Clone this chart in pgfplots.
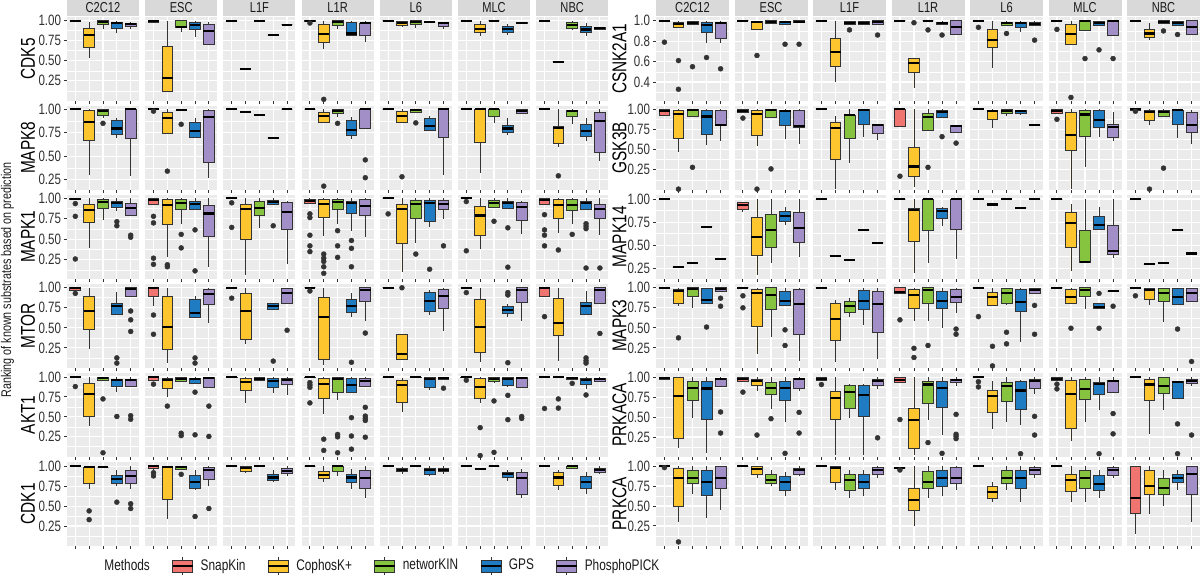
\documentclass[border=0pt]{standalone}
\usepackage{fontspec}
\setmainfont{Liberation Sans}[FakeStretch=0.77]
\usepackage{pgfplots}
\pgfplotsset{compat=1.18}
\usepgfplotslibrary{statistics}

\definecolor{c1}{HTML}{F07470}
\definecolor{c2}{HTML}{FDC62F}
\definecolor{c3}{HTML}{86C440}
\definecolor{c4}{HTML}{1F7BC2}
\definecolor{c5}{HTML}{A28FC8}
\definecolor{dark}{HTML}{333333}
\definecolor{panelbg}{HTML}{EBEBEB}
\definecolor{stripbg}{HTML}{D9D9D9}
\definecolor{txt}{HTML}{1A1A1A}
\definecolor{ticktxt}{HTML}{303030}

\newcommand\fTick{\fontsize{7.5}{8}\selectfont}
\newcommand\fStrip{\fontsize{7.2}{8}\selectfont}
\newcommand\fRow{\fontsize{7.5}{8}\selectfont}
\newcommand\fTitle{\fontsize{7}{8}\selectfont}
\newcommand\fLeg{\fontsize{7.7}{8}\selectfont}

\pgfplotsset{
  bp/.style={fill=c#1, draw=dark, line width=0.45pt, mark=*, mark size=1.25pt,
    mark options={fill=dark, draw=dark, line width=0.2pt}},
  boxplot/draw direction=y,
  boxplot/box extend=0.78,
  boxplot/whisker extend=0,
  boxplot/every box/.style={draw=dark, line width=0.45pt},
  boxplot/every whisker/.style={draw=dark, line width=0.45pt},
  boxplot/every median/.style={draw=black, line width=1.05pt},
  cell/.style={
    anchor=north west, scale only axis, height=41.75pt,
    xmin=0.4, xmax=5.6, xtick={1,2,3,4,5}, xticklabels={},
    axis background/.style={fill=panelbg},
    axis line style={draw=none},
    xmajorgrids, ymajorgrids, yminorgrids,
    major grid style={white, line width=0.6pt},
    minor grid style={white, line width=0.3pt},
    tick align=outside, tick pos=left,
    major tick length=1.6pt, minor tick length=0pt,
    tick style={draw=dark, line width=0.45pt},
    yticklabel style={font=\fTick, text=ticktxt, inner sep=1.2pt,
      /pgf/number format/.cd, fixed, fixed zerofill, precision=2, assume math mode=true},
    ylabel style={font=\fRow, text=txt},
    every axis title/.style={at={(0.5,1)}, anchor=south, fill=stripbg, minimum height=8.25pt,
      inner sep=0pt, yshift=0.25pt, font=\fStrip, text=txt},
  },
  cellL/.style={width=36pt, title style={minimum width=36pt},
    every axis y label/.style={at={(rel axis cs:0,0.5)}, xshift=-19.5pt, rotate=90, anchor=center}},
  cellR/.style={width=36.5pt, title style={minimum width=36.5pt},
    every axis y label/.style={at={(rel axis cs:0,0.5)}, xshift=-18.25pt, rotate=90, anchor=center}},
  inner/.style={yticklabels={,,,,,}, ytick style={draw=none}},
  q/.style={ytick={0.25,0.5,0.75,1}, minor ytick={0.125,0.375,0.625,0.875}},
  % row ranges, left grid
  rL1/.style={q, ymin=0.005, ymax=1.045},
  rL2/.style={q, ymin=0.144, ymax=1.035},
  rL3/.style={q, ymin=0.022, ymax=1.04},
  rL4/.style={q, ymin=0.005, ymax=1.047},
  rL5/.style={q, ymin=0.003, ymax=1.05},
  rL6/.style={q, ymin=0.005, ymax=1.055},
  % row ranges, right grid
  rR1/.style={ytick={0.4,0.6,0.8,1}, minor ytick={0.3,0.5,0.7,0.9}, ymin=0.22, ymax=1.036,
    yticklabel style={/pgf/number format/precision=1}},
  rR2/.style={q, ymin=0.005, ymax=1.04},
  rR3/.style={q, ymin=0.14, ymax=1.043},
  rR4/.style={q, ymin=0.005, ymax=1.047},
  rR5/.style={q, ymin=0.005, ymax=1.055},
  rR6/.style={q, ymin=0.005, ymax=1.05},
  keybox/.style={legend image code/.code={
    \draw[draw=dark, line width=0.45pt] (5pt,-4.5pt) -- (5pt,4.5pt);
    \draw[fill=#1, draw=dark, line width=0.45pt] (0pt,-3pt) rectangle (10pt,3pt);
    \draw[black, line width=0.9pt] (0pt,0pt) -- (10pt,0pt);}},
}

% box: position, lower whisker, lower quartile, median, upper quartile, upper whisker
\newcommand\Bx[6]{\addplot[bp=#1, boxplot prepared={draw position=#1,
  lower whisker=#2, lower quartile=#3, median=#4, upper quartile=#5, upper whisker=#6}]
  coordinates {};}
% same, followed by outliers separated by \\
\newcommand\Bo[7]{\addplot[bp=#1, boxplot prepared={draw position=#1,
  lower whisker=#2, lower quartile=#3, median=#4, upper quartile=#5, upper whisker=#6}]
  table[row sep=\\, y index=0] {v\\#7\\};}
% a single value
\newcommand\Fl[2]{\Bx{#1}{#2}{#2}{#2}{#2}{#2}}
\newcommand\Fo[3]{\Bo{#1}{#2}{#2}{#2}{#2}{#2}{#3}}

\newcommand\PL[4]{\begin{axis}[cell, cellL,
  at={({(67+78.2*#1)*0.5pt},{-(17+89*#2)*0.5pt})}, #3] #4 \end{axis}}
\newcommand\PR[4]{\begin{axis}[cell, cellR,
  at={({(656+78.5*#1)*0.5pt},{-(17+89*#2)*0.5pt})}, #3] #4 \end{axis}}

\begin{document}
\begin{tikzpicture}
\useasboundingbox (0,0) rectangle (600pt,-289.5pt);

% ---------------- left grid ----------------
% CDK5
\PL{0}{0}{rL1, ylabel=CDK5, title=C2C12}{\Fl1{1}\Bx2{0.53}{0.66}{0.82}{0.90}{0.98}\Bx3{0.89}{0.95}{0.98}{1}{1}\Bx4{0.84}{0.905}{0.965}{0.975}{1}\Bx5{0.90}{0.93}{0.957}{0.97}{0.98}}
\PL{1}{0}{rL1, inner, title=ESC}{\Bx1{0.975}{0.98}{0.99}{1}{1}\Bx2{0.12}{0.12}{0.29}{0.68}{1}\Bx3{0.86}{0.915}{0.925}{1}{1}\Bx4{0.795}{0.89}{0.95}{0.975}{1}\Bx5{0.70}{0.70}{0.87}{0.95}{0.98}}
\PL{2}{0}{rL1, inner, title=L1F}{\Fl1{1}\Fl2{0.40}\Fl3{1}\Fl4{0.82}\Fl5{0.95}}
\PL{3}{0}{rL1, inner, title=L1R}{\Bo1{0.99}{0.99}{1}{1}{1}{0.97}\Bo2{0.645}{0.73}{0.83}{0.957}{1}{0.02}\Bx3{0.89}{0.945}{0.985}{1}{1}\Bx4{0.82}{0.82}{0.84}{0.98}{1}\Bx5{0.73}{0.81}{0.965}{0.97}{1}}
\PL{4}{0}{rL1, inner, title=L6}{\Fl1{1}\Bx2{0.915}{0.94}{0.97}{0.99}{1}\Bx3{0.905}{0.95}{0.98}{1}{1}\Fl4{0.98}\Bx5{0.90}{0.925}{0.965}{0.975}{0.98}}
\PL{5}{0}{rL1, inner, title=MLC}{\Fl1{1}\Bx2{0.81}{0.85}{0.90}{0.957}{1}\Fl3{1}\Bx4{0.825}{0.855}{0.90}{0.93}{0.96}\Bx5{0.97}{0.97}{0.975}{0.98}{0.98}}
\PL{6}{0}{rL1, inner, title=NBC}{\Fl1{1}\Fl2{0.49}\Bx3{0.88}{0.90}{0.945}{0.975}{1}\Bx4{0.81}{0.85}{0.89}{0.93}{0.975}\Bx5{0.89}{0.89}{0.905}{0.92}{0.92}}
% MAPK8
\PL{0}{1}{rL2, ylabel=MAPK8}{\Fl1{1}\Bx2{0.30}{0.67}{0.865}{0.99}{1}\Bo3{0.91}{0.935}{0.98}{1}{1}{0.85}\Bx4{0.69}{0.735}{0.795}{0.88}{0.91}\Bx5{0.29}{0.69}{1}{1}{1}}
\PL{1}{1}{rL2, inner}{\Fo1{1}{0.98}\Bo2{0.74}{0.74}{0.905}{0.965}{1}{0.34}\Fo3{0.99}{0.84}\Bx4{0.70}{0.70}{0.77}{0.855}{0.91}\Bx5{0.265}{0.43}{0.92}{0.99}{1}}
\PL{2}{1}{rL2, inner}{\Fl1{1}\Fl2{0.97}\Fl3{0.935}\Fl4{0.695}\Fl5{1}}
\PL{3}{1}{rL2, inner}{\Fl1{1}\Bo2{0.855}{0.855}{0.925}{0.97}{1}{0.18}\Bo3{0.92}{0.96}{0.985}{1}{1}{0.85}\Bx4{0.68}{0.72}{0.775}{0.88}{0.92}\Bo5{0.80}{0.80}{1}{1}{1}{0.46\\0.27}}
\PL{4}{1}{rL2, inner}{\Fl1{1}\Bo2{0.855}{0.855}{0.93}{0.98}{1}{0.28}\Bo3{0.97}{0.97}{0.995}{1}{1}{0.855}\Bx4{0.77}{0.77}{0.82}{0.90}{0.925}\Bx5{0.30}{0.70}{1}{1}{1}}
\PL{5}{1}{rL2, inner}{\Fl1{1}\Bx2{0.32}{0.645}{1}{1}{1}\Bx3{0.85}{0.92}{1}{1}{1}\Bx4{0.725}{0.75}{0.795}{0.83}{0.91}\Bx5{0.955}{0.955}{0.98}{1}{1}}
\PL{6}{1}{rL2, inner}{\Fl1{1}\Bo2{0.60}{0.64}{0.805}{0.82}{1}{0.29}\Bx3{0.84}{0.92}{0.98}{0.99}{1}\Bx4{0.66}{0.705}{0.765}{0.84}{0.91}\Bx5{0.45}{0.535}{0.875}{0.97}{1}}
% MAPK1
\PL{0}{2}{rL3, ylabel=MAPK1}{\Bo1{0.98}{0.98}{0.99}{1}{1}{0.935\\0.78\\0.26}\Bx2{0.40}{0.70}{0.855}{0.925}{1}\Bx3{0.735}{0.875}{0.95}{0.99}{1}\Bo4{0.85}{0.885}{0.945}{0.965}{1}{0.715\\0.665}\Bo5{0.79}{0.79}{0.88}{0.94}{1}{0.55\\0.525}}
\PL{1}{2}{rL3, inner}{\Bo1{0.925}{0.925}{0.98}{0.995}{1}{0.78\\0.70\\0.27\\0.195}\Bo2{0.29}{0.68}{0.915}{0.985}{1}{0.19\\0.165}\Bo3{0.69}{0.86}{0.94}{0.98}{1}{0.56\\0.395}\Bo4{0.865}{0.865}{0.925}{0.96}{1}{0.615\\0.115}\Bx5{0.16}{0.54}{0.815}{0.91}{1}}
\PL{2}{2}{rL3, inner}{\Fo1{1}{0.945\\0.645}\Bx2{0.065}{0.50}{0.87}{0.93}{1}\Bx3{0.635}{0.79}{0.885}{0.965}{1}\Bo4{0.92}{0.92}{0.96}{0.97}{1}{0.665}\Bx5{0.195}{0.615}{0.83}{0.955}{0.97}}
\PL{3}{2}{rL3, inner}{\Bo1{0.94}{0.94}{0.965}{0.99}{1}{0.81\\0.765\\0.55\\0.42\\0.35}\Bo2{0.54}{0.765}{0.925}{0.98}{1}{0.32\\0.27\\0.23\\0.165\\0.085}\Bo3{0.69}{0.86}{0.95}{0.99}{1}{0.605\\0.42\\0.28}\Bo4{0.605}{0.815}{0.94}{0.965}{1}{0.485\\0.39\\0.165}\Bx5{0.525}{0.79}{0.91}{0.98}{1}}
\PL{4}{2}{rL3, inner}{\Fo1{1}{0.81}\Bx2{0.105}{0.45}{0.865}{0.925}{1}\Bo3{0.46}{0.755}{0.93}{0.97}{1}{0.32}\Bo4{0.645}{0.715}{0.94}{0.97}{1}{0.135}\Bo5{0.75}{0.87}{0.925}{0.975}{1}{0.42}}
\PL{5}{2}{rL3, inner}{\Fo1{1}{0.96\\0.36}\Bx2{0.38}{0.55}{0.79}{0.905}{1}\Bo3{0.89}{0.89}{0.945}{0.97}{1}{0.72}\Bo4{0.875}{0.875}{0.945}{0.965}{1}{0.64\\0.16}\Bx5{0.56}{0.73}{0.89}{0.945}{0.97}}
\PL{6}{2}{rL3, inner}{\Bo1{0.925}{0.925}{0.98}{1}{1}{0.80\\0.615\\0.55\\0.42}\Bo2{0.575}{0.75}{0.92}{0.99}{1}{0.37}\Bo3{0.69}{0.85}{0.92}{0.98}{1}{0.56}\Bo4{0.86}{0.86}{0.945}{0.965}{1}{0.69\\0.66\\0.63\\0.15}\Bo5{0.55}{0.76}{0.87}{0.92}{1}{0.15}}
% MTOR
\PL{0}{3}{rL4, ylabel=MTOR}{\Bo1{0.97}{0.97}{1}{1}{1}{0.93}\Bx2{0.23}{0.475}{0.71}{0.89}{1}\Bo4{0.665}{0.665}{0.775}{0.80}{0.95}{0.125\\0.06}\Bo5{0.89}{0.89}{0.98}{1}{1}{0.71\\0.60\\0.455}}
\PL{1}{3}{rL4, inner}{\Bo1{0.77}{0.89}{1}{1}{1}{0.66\\0.42}\Bx2{0.06}{0.23}{0.505}{0.89}{1}\Bo4{0.63}{0.63}{0.68}{0.855}{0.90}{0.125\\0.06}\Bx5{0.555}{0.79}{0.925}{0.98}{1}}
\PL{2}{3}{rL4, inner}{\Fo1{1}{0.87}\Bx2{0.295}{0.36}{0.71}{0.935}{1}\Bo4{0.725}{0.725}{0.77}{0.80}{0.80}{0.085}\Bo5{0.80}{0.80}{0.93}{0.99}{1}{0.47}}
\PL{3}{3}{rL4, inner}{\Fo1{1}{0.96}\Bx2{0.04}{0.11}{0.64}{0.88}{1}\Bo4{0.63}{0.69}{0.77}{0.86}{0.93}{0.07}\Bo5{0.58}{0.83}{0.97}{1}{1}{0.435}}
\PL{4}{3}{rL4, inner}{\Fl1{1}\Bo2{0.105}{0.105}{0.175}{0.42}{0.42}{1}\Bx4{0.665}{0.71}{0.83}{0.94}{0.97}\Bx5{0.455}{0.74}{0.90}{0.98}{1}}
\PL{5}{3}{rL4, inner}{\Fo1{1}{0.94}\Bx2{0.075}{0.195}{0.505}{0.85}{1}\Bo4{0.63}{0.675}{0.725}{0.765}{0.80}{0.94\\0.91\\0.065}\Bx5{0.59}{0.82}{0.97}{1}{1}}
\PL{6}{3}{rL4, inner}{\Bo1{0.89}{0.89}{1}{1}{1}{0.64}\Bx2{0.09}{0.41}{0.56}{0.87}{1}\Bo4{0.665}{0.665}{0.77}{0.82}{0.96}{0.125\\0.09\\0.06}\Bo5{0.81}{0.81}{0.97}{1}{1}{0.43}}
% AKT1
\PL{0}{4}{rL5, ylabel=AKT1}{\Fo1{1}{0.88}\Bx2{0.38}{0.50}{0.79}{0.915}{1}\Bo3{0.955}{0.955}{0.985}{1}{1}{0.725\\0.05}\Bo4{0.81}{0.88}{0.96}{0.975}{1}{0.505}\Bo5{0.885}{0.885}{0.96}{0.975}{1}{0.515\\0.47}}
\PL{1}{4}{rL5, inner}{\Bo1{0.96}{0.96}{1}{1}{1}{0.91}\Bo2{0.745}{0.86}{0.96}{0.985}{1}{0.635}\Bo3{0.945}{0.945}{0.97}{0.995}{1}{0.295\\0.265}\Bo4{0.92}{0.92}{0.97}{0.985}{1}{0.81\\0.275}\Bo5{0.865}{0.865}{0.985}{1}{1}{0.635\\0.255}}
\PL{2}{4}{rL5, inner}{\Bx1{0.99}{0.99}{1}{1}{1}\Bx2{0.67}{0.83}{0.935}{0.985}{1}\Bx3{0.96}{0.96}{0.98}{0.995}{1}\Bx4{0.80}{0.875}{0.955}{0.985}{1}\Bx5{0.77}{0.905}{0.96}{0.985}{1}}
\PL{3}{4}{rL5, inner}{\Bo1{0.99}{0.99}{1}{1}{1}{0.93\\0.90\\0.87\\0.675}\Bo2{0.53}{0.735}{0.91}{0.98}{1}{0.22\\0.08}\Bo3{0.71}{0.805}{0.97}{1}{1}{0.28\\0.25\\0.05}\Bo4{0.80}{0.80}{0.90}{0.98}{1}{0.49\\0.26\\0.095}\Bo5{0.87}{0.885}{0.955}{0.98}{1}{0.62\\0.51\\0.48\\0.455\\0.245}}
\PL{4}{4}{rL5, inner}{\Fl1{1}\Bx2{0.56}{0.675}{0.905}{0.955}{0.99}\Bx3{0.99}{0.99}{0.995}{1}{1}\Bx4{0.84}{0.865}{0.98}{0.995}{1}\Bo5{0.975}{0.975}{0.99}{1}{1}{0.86}}
\PL{5}{4}{rL5, inner}{\Bo1{0.995}{0.995}{1}{1}{1}{0.96}\Bo2{0.68}{0.735}{0.875}{0.985}{1}{0.365\\0.015}\Bo3{0.925}{0.945}{0.975}{1}{1}{0.70\\0.055}\Bo4{0.87}{0.90}{0.97}{0.99}{1}{0.77\\0.465}\Bo5{0.87}{0.87}{0.99}{1}{1}{0.505\\0.48}}
\PL{6}{4}{rL5, inner}{\Fo1{1}{0.605}\Fo2{1}{0.725\\0.61}\Bo3{0.97}{0.97}{0.99}{1}{1}{0.92}\Bo4{0.855}{0.905}{0.96}{0.985}{1}{0.775}\Bx5{0.95}{0.95}{0.97}{0.985}{1}}
% CDK1
\PL{0}{5}{rL6, ylabel=CDK1}{\Fl1{1}\Bo2{0.72}{0.78}{0.99}{0.99}{1}{0.44\\0.33}\Fl3{0.99}\Bo4{0.75}{0.78}{0.84}{0.89}{0.95}{0.55}\Bo5{0.72}{0.78}{0.88}{0.95}{1}{0.53\\0.47}}
\PL{1}{5}{rL6, inner}{\Bo1{0.95}{0.97}{1}{1}{1}{0.92\\0.88}\Bx2{0.34}{0.58}{0.99}{1}{1}\Bo3{0.96}{0.96}{0.99}{1}{1}{0.90}\Bo4{0.70}{0.72}{0.80}{0.89}{0.96}{0.37}\Bo5{0.75}{0.83}{0.95}{0.99}{1}{0.47}}
\PL{2}{5}{rL6, inner}{\Fl1{1}\Bx2{0.92}{0.94}{0.98}{1}{1}\Fl3{1}\Bx4{0.80}{0.82}{0.86}{0.90}{0.95}\Bx5{0.88}{0.91}{0.94}{0.98}{1}}
\PL{3}{5}{rL6, inner}{\Fl1{1}\Bx2{0.80}{0.85}{0.89}{0.93}{1}\Bx3{0.88}{0.93}{1}{1}{1}\Bx4{0.72}{0.80}{0.86}{0.90}{0.97}\Bx5{0.60}{0.72}{0.85}{0.95}{1}}
\PL{4}{5}{rL6, inner}{\Fl1{1}\Bx2{0.91}{0.93}{0.95}{0.97}{0.99}\Fl3{1}\Bx4{0.88}{0.90}{0.95}{0.98}{1}\Bx5{0.91}{0.94}{0.96}{0.97}{1}}
\PL{5}{5}{rL6, inner}{\Fl1{1}\Fl2{0.97}\Fl3{1}\Bx4{0.82}{0.86}{0.90}{0.92}{0.95}\Bx5{0.60}{0.65}{0.85}{0.92}{0.97}}
\PL{6}{5}{rL6, inner}{\Fl1{1}\Bx2{0.70}{0.76}{0.86}{0.92}{0.96}\Bx3{0.97}{0.98}{1}{1}{1}\Bx4{0.65}{0.72}{0.80}{0.87}{0.93}\Bx5{0.90}{0.92}{0.95}{0.98}{1}}

% ---------------- right grid ----------------
% CSNK2A1
\PR{0}{0}{rR1, ylabel=CSNK2A1, title=C2C12}{\Fo1{1}{0.79}\Bo2{0.935}{0.935}{0.965}{0.98}{1}{0.61\\0.33}\Bo3{0.955}{0.965}{0.98}{0.995}{1}{0.55}\Bo4{0.78}{0.885}{0.96}{0.98}{1}{0.64}\Bo5{0.78}{0.825}{0.975}{0.985}{1}{0.53}}
\PR{1}{0}{rR1, inner, title=ESC}{\Fl1{1}\Bo2{0.91}{0.91}{0.985}{0.99}{1}{0.66}\Bx3{0.975}{0.975}{0.985}{1}{1}\Bo4{0.967}{0.967}{0.985}{0.997}{1}{0.77}\Bo5{0.985}{0.985}{0.99}{1}{1}{0.77}}
\PR{2}{0}{rR1, inner, title=L1F}{\Fl1{1}\Bx2{0.40}{0.55}{0.69}{0.83}{1}\Bo3{0.967}{0.967}{0.98}{0.997}{1}{0.91}\Bx4{0.96}{0.96}{0.977}{0.99}{1}\Bo5{0.96}{0.96}{0.985}{1}{1}{0.86}}
\PR{3}{0}{rR1, inner, title=L1R}{\Fl1{1}\Bo2{0.345}{0.49}{0.59}{0.63}{0.63}{0.98}\Fo3{1}{0.91}\Bo4{0.967}{0.967}{0.98}{0.987}{1}{0.86}\Bx5{0.87}{0.87}{0.935}{1}{1}}
\PR{4}{0}{rR1, inner, title=L6}{\Fo1{1}{0.935}\Bx2{0.535}{0.735}{0.81}{0.915}{1}\Bo3{0.95}{0.95}{0.975}{0.985}{1}{0.875}\Bx4{0.885}{0.935}{0.98}{0.985}{1}\Bo5{0.95}{0.95}{0.97}{0.985}{1}{0.81}}
\PR{5}{0}{rR1, inner, title=MLC}{\Fo1{1}{0.915}\Bo2{0.77}{0.77}{0.87}{0.965}{1}{0.25}\Bo3{0.90}{0.90}{0.995}{1}{1}{0.63}\Bo4{0.957}{0.957}{0.98}{0.997}{1}{0.715}\Bo5{0.86}{0.86}{1}{1}{1}{0.63}}
\PR{6}{0}{rR1, inner, title=NBC}{\Fl1{1}\Bx2{0.81}{0.835}{0.875}{0.915}{0.975}\Bo3{0.975}{0.975}{0.985}{1}{1}{0.90}\Bo4{0.957}{0.957}{0.98}{0.993}{1}{0.865}\Bx5{0.865}{0.865}{0.94}{1}{1}}
% GSK3B
\PR{0}{1}{rR2, ylabel=GSK3B}{\Bx1{0.925}{0.925}{0.98}{1}{1}\Bo2{0.47}{0.635}{0.945}{0.98}{1}{0.01}\Bo3{0.905}{0.905}{0.99}{1}{1}{0.28}\Bx4{0.56}{0.685}{0.91}{0.98}{1}\Bx5{0.605}{0.80}{0.81}{0.98}{1}}
\PR{1}{1}{rR2, inner}{\Bo1{0.955}{0.955}{0.98}{1}{1}{0.89}\Bo2{0.54}{0.67}{0.945}{0.98}{1}{0.01}\Bo3{0.90}{0.90}{0.985}{1}{1}{0.26}\Bx4{0.635}{0.795}{0.98}{0.98}{1}\Bx5{0.57}{0.77}{0.79}{0.98}{1}}
\PR{2}{1}{rR2, inner}{\Fl1{1}\Bx2{0.01}{0.38}{0.765}{0.84}{0.91}\Bx3{0.335}{0.635}{0.925}{0.925}{1}\Bx4{0.655}{0.81}{0.99}{1}{1}\Bx5{0.62}{0.705}{0.80}{0.81}{0.815}}
\PR{3}{1}{rR2, inner}{\Bo1{0.79}{0.79}{1}{1}{1}{0.17}\Bx2{0.03}{0.17}{0.29}{0.53}{1}\Bo3{0.74}{0.74}{0.905}{0.945}{1}{0.28}\Bo4{0.895}{0.895}{0.965}{0.99}{1}{0.66}\Bo5{0.715}{0.715}{0.79}{0.795}{0.795}{0.58}}
\PR{4}{1}{rR2, inner}{\Fl1{1}\Bx2{0.77}{0.875}{0.98}{0.98}{1}\Bx3{0.915}{0.945}{0.975}{1}{1}\Bx4{0.925}{0.945}{0.975}{0.985}{0.985}\Fl5{0.805}}
\PR{5}{1}{rR2, inner}{\Bo1{0.945}{0.945}{0.975}{1}{1}{0.875}\Bx2{0.01}{0.495}{0.685}{0.955}{1}\Bx3{0.28}{0.66}{0.935}{0.98}{1}\Bx4{0.655}{0.78}{0.87}{0.98}{1}\Bx5{0.605}{0.645}{0.78}{0.81}{0.965}}
\PR{6}{1}{rR2, inner}{\Bo1{0.98}{0.98}{1}{1}{1}{0.975}\Bo2{0.80}{0.86}{0.965}{0.98}{1}{0.01}\Bo3{0.91}{0.91}{0.965}{0.99}{1}{0.27}\Bx4{0.64}{0.81}{0.99}{0.99}{1}\Bx5{0.57}{0.715}{0.80}{0.965}{0.99}}
% MAPK14
\PR{0}{2}{rR3, ylabel=MAPK14}{\Fl1{1}\Fl2{0.26}\Fl3{0.305}\Fl4{0.70}\Fl5{0.355}}
\PR{1}{2}{rR3, inner}{\Bx1{0.855}{0.89}{0.935}{0.965}{0.965}\Bx2{0.175}{0.385}{0.59}{0.795}{1}\Bx3{0.31}{0.48}{0.66}{0.83}{1}\Bx4{0.715}{0.76}{0.815}{0.87}{0.915}\Bx5{0.375}{0.525}{0.685}{0.85}{1}}
\PR{2}{2}{rR3, inner}{\Fl1{1}\Fl2{0.385}\Fl3{0.34}\Fl4{0.665}\Fl5{0.525}}
\PR{3}{2}{rR3, inner}{\Fl1{1}\Bx2{0.20}{0.54}{0.885}{0.895}{1}\Bx3{0.31}{0.655}{1}{1}{1}\Bx4{0.705}{0.79}{0.87}{0.895}{0.915}\Bx5{0.355}{0.675}{1}{1}{1}}
\PR{4}{2}{rR3, inner}{\Fl1{1}\Fl2{0.94}\Fl3{0.995}\Fl4{0.905}\Fl5{1}}
\PR{5}{2}{rR3, inner}{\Fl1{1}\Bx2{0.22}{0.475}{0.74}{0.85}{0.95}\Bx3{0.31}{0.31}{0.32}{0.66}{1}\Bx4{0.67}{0.67}{0.715}{0.815}{0.915}\Bx5{0.365}{0.395}{0.435}{0.715}{1}}
\PR{6}{2}{rR3, inner}{\Fl1{1}\Fl2{0.295}\Fl3{0.31}\Fl4{0.665}\Fl5{0.41}}
% MAPK3
\PR{0}{3}{rR4, ylabel=MAPK3}{\Fl1{1}\Bo2{0.77}{0.81}{0.96}{0.98}{1}{0.375}\Bx3{0.75}{0.89}{0.98}{1}{1}\Bo4{0.80}{0.80}{0.845}{0.99}{1}{0.51}\Bo5{0.95}{0.95}{0.98}{1}{1}{0.87\\0.77}}
\PR{1}{3}{rR4, inner}{\Fo1{1}{0.90\\0.75}\Bx2{0.175}{0.515}{0.93}{0.98}{1}\Bx3{0.38}{0.725}{0.91}{1}{1}\Bo4{0.78}{0.78}{0.83}{0.96}{1}{0.475\\0.28}\Bx5{0.09}{0.42}{0.80}{0.975}{1}}
\PR{2}{3}{rR4, inner}{\Fl1{1}\Bx2{0.07}{0.34}{0.61}{0.80}{0.85}\Bx3{0.63}{0.695}{0.77}{0.83}{0.87}\Bx4{0.53}{0.725}{0.83}{0.97}{1}\Bx5{0.11}{0.445}{0.80}{0.95}{1}}
\PR{3}{3}{rR4, inner}{\Bo1{0.93}{0.93}{0.95}{1}{1}{0.60}\Bo2{0.58}{0.74}{0.91}{0.98}{1}{0.245\\0.13}\Bo3{0.58}{0.81}{0.97}{1}{1}{0.28}\Bx4{0.50}{0.74}{0.83}{0.95}{1}\Bo5{0.68}{0.82}{0.89}{0.98}{1}{0.485\\0.42}}
\PR{4}{3}{rR4, inner}{\Fo1{1}{0.64}\Bo2{0.78}{0.78}{0.89}{0.94}{1}{0.27\\0.025}\Bo3{0.78}{0.80}{0.93}{0.99}{1}{0.445\\0.30}\Bx4{0.32}{0.705}{0.82}{0.975}{1}\Bo5{0.93}{0.93}{0.97}{0.99}{1}{0.78\\0.42}}
\PR{5}{3}{rR4, inner}{\Fl1{1}\Bo2{0.80}{0.81}{0.89}{0.98}{1}{0.495}\Bx3{0.74}{0.89}{0.97}{1}{1}\Bo4{0.74}{0.74}{0.765}{0.80}{0.80}{0.93\\0.495}\Fo5{0.955}{0.77}}
\PR{6}{3}{rR4, inner}{\Fo1{1}{0.90}\Bx2{0.78}{0.86}{0.97}{0.99}{1}\Bx3{0.57}{0.83}{0.93}{0.99}{1}\Bo4{0.79}{0.79}{0.89}{0.99}{1}{0.485}\Bo5{0.83}{0.83}{0.93}{0.99}{1}{0.08}}
% PRKACA
\PR{0}{4}{rR5, ylabel=PRKACA}{\Bx1{0.975}{0.975}{0.99}{1}{1}\Bx2{0.115}{0.23}{0.77}{1}{1}\Bx3{0.49}{0.715}{0.87}{0.945}{1}\Bx4{0.05}{0.47}{0.86}{0.955}{1}\Bo5{0.89}{0.89}{0.98}{0.985}{1}{0.565\\0.30}}
\PR{1}{4}{rR5, inner}{\Bo1{0.95}{0.95}{0.98}{1}{1}{0.815}\Bo2{0.83}{0.895}{0.955}{0.975}{1}{0.275}\Bo3{0.60}{0.79}{0.87}{0.94}{1}{0.48}\Bo4{0.44}{0.715}{0.87}{0.95}{1}{0.045}\Bo5{0.835}{0.855}{0.975}{0.985}{1}{0.56\\0.30}}
\PR{2}{4}{rR5, inner}{\Bo1{0.965}{0.965}{0.985}{1}{1}{0.91}\Bx2{0.02}{0.47}{0.74}{0.82}{1}\Bx3{0.49}{0.61}{0.82}{0.895}{0.92}\Bx4{0.02}{0.51}{0.775}{0.895}{0.92}\Bo5{0.855}{0.895}{0.955}{0.98}{1}{0.24}}
\PR{3}{4}{rR5, inner}{\Bo1{0.935}{0.935}{0.965}{0.995}{1}{0.47}\Bx2{0.025}{0.105}{0.46}{0.61}{1}\Bo3{0.47}{0.675}{0.91}{0.95}{1}{0.18}\Bo4{0.275}{0.62}{0.87}{0.95}{1}{0.045}\Bo5{0.89}{0.93}{0.965}{0.98}{1}{0.535\\0.285\\0.26\\0.23}}
\PR{4}{4}{rR5, inner}{\Fo1{1}{0.945\\0.88}\Bx2{0.355}{0.555}{0.765}{0.83}{0.95}\Bx3{0.435}{0.70}{0.89}{0.935}{1}\Bo4{0.395}{0.60}{0.835}{0.945}{0.965}{0.04}\Bo5{0.79}{0.865}{0.96}{0.98}{1}{0.51\\0.275}}
\PR{5}{4}{rR5, inner}{\Bo1{0.965}{0.965}{0.985}{1}{1}{0.915\\0.855}\Bx2{0.20}{0.36}{0.79}{0.965}{1}\Bx3{0.44}{0.72}{0.855}{0.98}{1}\Bo4{0.585}{0.785}{0.915}{0.935}{1}{0.04}\Bo5{0.81}{0.81}{0.955}{0.965}{1}{0.545\\0.29}}
\PR{6}{4}{rR5, inner}{\Fl1{1}\Bx2{0.285}{0.705}{0.91}{0.98}{1}\Bx3{0.585}{0.795}{0.89}{1}{1}\Bo4{0.74}{0.74}{0.945}{0.945}{0.945}{0.415\\0.04}\Bo5{0.89}{0.92}{0.955}{0.98}{1}{0.275}}
% PRKCA
\PR{0}{5}{rR6, ylabel=PRKCA}{\Fo1{1}{0.98}\Bo2{0.30}{0.50}{0.85}{0.97}{1}{0.05}\Bx3{0.65}{0.78}{0.85}{0.95}{1}\Bx4{0.35}{0.63}{0.80}{0.95}{1}\Bx5{0.45}{0.72}{0.85}{0.99}{1}}
\PR{1}{5}{rR6, inner}{\Fl1{1}\Bx2{0.85}{0.90}{0.96}{1}{1}\Bx3{0.75}{0.78}{0.82}{0.90}{0.95}\Bx4{0.62}{0.70}{0.80}{0.87}{0.92}\Bx5{0.88}{0.90}{0.95}{0.97}{1}}
\PR{2}{5}{rR6, inner}{\Fl1{1}\Bx2{0.70}{0.80}{0.97}{1}{1}\Bx3{0.60}{0.70}{0.82}{0.90}{0.95}\Bx4{0.62}{0.72}{0.80}{0.90}{0.95}\Bx5{0.85}{0.90}{0.95}{0.98}{1}}
\PR{3}{5}{rR6, inner}{\Fo1{0.98}{0.95}\Bx2{0.25}{0.45}{0.58}{0.72}{1}\Bx3{0.60}{0.72}{0.80}{0.93}{1}\Bx4{0.62}{0.75}{0.85}{0.95}{1}\Bx5{0.70}{0.78}{0.85}{0.98}{1}}
\PR{4}{5}{rR6, inner}{\Fl1{1}\Bx2{0.55}{0.60}{0.68}{0.75}{0.80}\Bx3{0.70}{0.78}{0.85}{0.95}{1}\Bx4{0.55}{0.72}{0.85}{0.95}{1}\Bx5{0.85}{0.90}{0.95}{0.98}{1}}
\PR{5}{5}{rR6, inner}{\Fl1{1}\Bx2{0.55}{0.68}{0.82}{0.90}{1}\Bx3{0.55}{0.72}{0.85}{0.95}{1}\Bx4{0.60}{0.70}{0.78}{0.88}{0.95}\Bx5{0.85}{0.88}{0.95}{0.98}{1}}
\PR{6}{5}{rR6, inner}{\Bx1{0.15}{0.40}{0.60}{1}{1}\Bx2{0.40}{0.65}{0.75}{0.95}{1}\Bx3{0.50}{0.65}{0.72}{0.85}{0.95}\Bx4{0.70}{0.80}{0.85}{0.90}{0.95}\Bx5{0.30}{0.65}{0.90}{1}{1}}

% shared y title
\node[rotate=90, font=\fTitle, text=txt] at (3.8pt,-140pt) {Ranking of known substrates based on prediction};

% legend
\begin{axis}[at={(48.5pt,-283pt)}, anchor=west, hide axis, scale only axis,
  width=2pt, height=2pt, xmin=0, xmax=1, ymin=0, ymax=1,
  legend style={at={(0,0.5)}, anchor=west, draw=none, fill=none, font=\fLeg,
    text=txt, legend columns=6, legend cell align=left, inner sep=0pt,
    /tikz/every even column/.append style={column sep=9pt},
    /tikz/every odd column/.append style={column sep=1.5pt}}]
\addlegendimage{empty legend}\addlegendentry{Methods}
\addlegendimage{keybox=c1}\addlegendentry{SnapKin}
\addlegendimage{keybox=c2}\addlegendentry{CophosK+}
\addlegendimage{keybox=c3}\addlegendentry{networKIN}
\addlegendimage{keybox=c4}\addlegendentry{GPS}
\addlegendimage{keybox=c5}\addlegendentry{PhosphoPICK}
\end{axis}
\end{tikzpicture}
\end{document}
